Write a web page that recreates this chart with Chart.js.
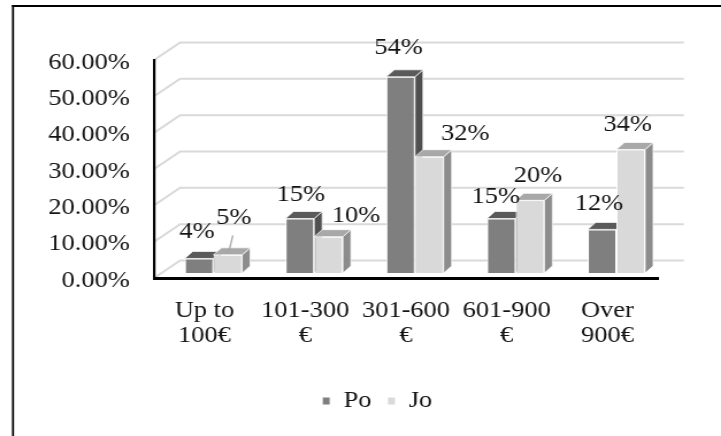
<!DOCTYPE html>
<html>
<head>
<meta charset="utf-8">
<script src="https://cdn.jsdelivr.net/npm/chart.js@4.4.1/dist/chart.umd.min.js"></script>
<style>
  html, body { margin: 0; padding: 0; background: #fff; overflow: hidden; }
  /* the chart is laid out narrower and widened, giving the wide serif lettering */
  #wrap { position: absolute; left: 0; top: 0; width: 627px; height: 436px;
          transform: scaleX(1.15); transform-origin: 0 0; }
</style>
</head>
<body>
<div id="wrap"><canvas id="chart"></canvas></div>
<script>
// ---- data ----
const categories = [['Up to', '100€'], ['101-300', '€'], ['301-600', '€'], ['601-900', '€'], ['Over', '900€']];
const seriesNames = ['Po', 'Jo'];
const poValues = [4, 15, 54, 15, 12];
const joValues = [5, 10, 32, 20, 34];
const yTicks = [0, 10, 20, 30, 40, 50, 60];
const yTickLabels = ['0.00%', '10.00%', '20.00%', '30.00%', '40.00%', '50.00%', '60.00%'];

// ---- look ----
const SX = 1.15;                       // horizontal widening of the wrapper
const FONT = '"Liberation Serif", "Times New Roman", serif';
const TEXT = '#141414';
const depth = {
  wall:  { dx: 26 / SX, dy: -17.5 },   // back wall behind the front axes
  shift: { dx: 9 / SX,  dy: -5 },      // columns stand half way into the floor
  bar:   { dx: 8 / SX,  dy: -7 }       // thickness of each column
};
const faceColors = [
  { front: '#7f7f7f', top: '#5a5a5a', side: '#4f4f4f' },
  { front: '#d9d9d9', top: '#a8a8a8', side: '#8c8c8c' }
];
// value label placement relative to the top of each column (px)
const labelOffsets = [
  [[-2, -26.5], [1, -23.5], [-2, -28.5], [-5.5, -21.5], [-3, -25.4]],
  [[6, -37], [27.5, -20.7], [36, -22.7], [8, -24.3], [-3, -24.5]]
];
const legendShift = 37;                // legend sits right of the plot centre

function poly(ctx, pts) {
  ctx.beginPath();
  ctx.moveTo(pts[0][0], pts[0][1]);
  for (let i = 1; i < pts.length; i++) ctx.lineTo(pts[i][0], pts[i][1]);
  ctx.closePath();
  ctx.fill();
  ctx.stroke();
}

function drawFaces(ctx, meta, c) {
  const { dx, dy } = depth.bar;
  ctx.strokeStyle = 'rgba(255,255,255,0.9)';
  ctx.lineWidth = 0.8;
  meta.data.forEach(el => {
    const { x, y, base, width } = el.getProps(['x', 'y', 'base', 'width'], true);
    const l = x - width / 2, r = x + width / 2;
    ctx.fillStyle = c.side;
    poly(ctx, [[r, y], [r + dx, y + dy], [r + dx, base + dy], [r, base]]);
    ctx.fillStyle = c.top;
    poly(ctx, [[l, y], [r, y], [r + dx, y + dy], [l + dx, y + dy]]);
  });
}

const columns3d = {
  id: 'columns3d',
  afterLayout(chart) {
    if (chart.legend) {
      chart.legend.left += legendShift;
      chart.legend.right += legendShift;
    }
  },
  beforeDraw(chart) {
    const { ctx, width, height, chartArea: a, scales: { y } } = chart;
    ctx.save();
    ctx.fillStyle = '#fff';
    ctx.fillRect(0, 0, width, height);
    // frame
    ctx.fillStyle = '#000';
    ctx.fillRect(11.3 - 0.87, 5, 1.74, height - 5);
    ctx.fillRect(11.3 - 0.87, 5, width, 2);
    // side wall and back wall gridlines
    const w = depth.wall;
    ctx.strokeStyle = '#d9d9d9';
    ctx.lineWidth = 2;
    yTicks.forEach(v => {
      const py = y.getPixelForValue(v);
      ctx.beginPath();
      ctx.moveTo(a.left, py);
      ctx.lineTo(a.left + w.dx, py + w.dy);
      ctx.lineTo(a.right + w.dx, py + w.dy);
      ctx.stroke();
    });
    ctx.restore();
  },
  beforeDatasetsDraw(chart) {
    chart.ctx.save();
    chart.ctx.translate(depth.shift.dx, depth.shift.dy);
  },
  afterDatasetsDraw(chart) {
    const ctx = chart.ctx;
    const po = chart.getDatasetMeta(0), jo = chart.getDatasetMeta(1);
    drawFaces(ctx, po, faceColors[0]);
    jo.data.forEach(el => el.draw(ctx));   // Jo columns stand in front of Po side faces
    drawFaces(ctx, jo, faceColors[1]);

    // leader line of the first Jo label
    const j0 = jo.data[0];
    ctx.strokeStyle = '#a6a6a6';
    ctx.lineWidth = 1.3;
    ctx.beginPath();
    ctx.moveTo(j0.x + 5 / SX, j0.y - 19.5);
    ctx.lineTo(j0.x + 1 / SX, j0.y - 3);
    ctx.stroke();

    // value labels
    ctx.fillStyle = TEXT;
    ctx.font = '23px ' + FONT;
    ctx.textAlign = 'center';
    ctx.textBaseline = 'middle';
    [poValues, joValues].forEach((vals, d) => {
      const meta = chart.getDatasetMeta(d);
      vals.forEach((v, i) => {
        const el = meta.data[i];
        const off = labelOffsets[d][i];
        ctx.fillText(v + '%', el.x + off[0] / SX, el.y + off[1]);
      });
    });
    ctx.restore();
  }
};

new Chart(document.getElementById('chart'), {
  type: 'bar',
  data: {
    labels: categories,
    datasets: [
      { label: seriesNames[0], data: poValues, backgroundColor: faceColors[0].front,
        borderColor: '#ffffff', borderWidth: 1, clip: false },
      { label: seriesNames[1], data: joValues, backgroundColor: faceColors[1].front,
        borderColor: '#ffffff', borderWidth: 1, clip: false }
    ]
  },
  options: {
    responsive: true,
    maintainAspectRatio: false,
    animation: false,
    devicePixelRatio: 1,
    datasets: { bar: { categoryPercentage: 0.57, barPercentage: 1 } },
    layout: { padding: { left: 10, right: 55, top: 60, bottom: 13.5 } },
    scales: {
      x: {
        grid: { display: false, drawTicks: false },
        border: { display: true, color: '#000', width: 3 },
        ticks: { color: TEXT, font: { family: FONT, size: 23, lineHeight: 1.09 },
                 padding: 20, maxRotation: 0, autoSkip: false },
        afterFit(s) { s.height = 97.5; }
      },
      y: {
        min: 0, max: 60,
        grid: { display: false, drawTicks: false },
        border: { display: true, color: '#000', width: 2.2 },
        ticks: { stepSize: 10, color: TEXT, font: { family: FONT, size: 23 }, padding: 21,
                 labelOffset: 2.5, callback: v => yTickLabels[yTicks.indexOf(v)] },
        afterFit(s) { s.width = 124; }
      }
    },
    plugins: {
      tooltip: { enabled: false },
      legend: {
        position: 'bottom',
        labels: { color: TEXT, font: { family: FONT, size: 23 }, boxWidth: 7, boxHeight: 8,
                  padding: 14, sort: (a, b) => a.datasetIndex - b.datasetIndex }
      }
    }
  },
  plugins: [columns3d]
});
</script>
</body>
</html>
